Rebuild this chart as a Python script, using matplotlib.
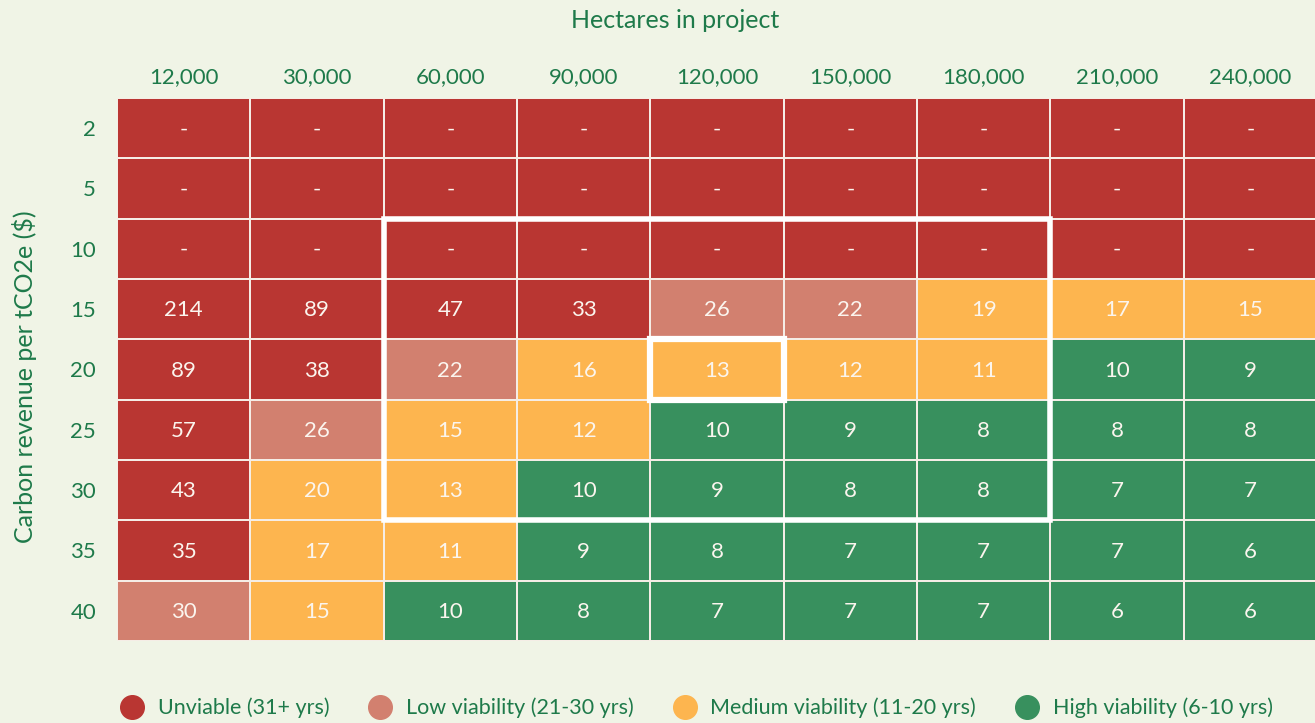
import numpy as np
import matplotlib
matplotlib.use("Agg")
import matplotlib.pyplot as plt
from matplotlib.colors import ListedColormap, BoundaryNorm
from matplotlib.patches import Rectangle
from matplotlib.lines import Line2D

plt.rcParams['font.family'] = ['Lato', 'DejaVu Sans']

hectares = ["12,000", "30,000", "60,000", "90,000", "120,000", "150,000", "180,000", "210,000", "240,000"]
revenue = ["2", "5", "10", "15", "20", "25", "30", "35", "40"]
nan = np.nan
years = np.array([
    [nan, nan, nan, nan, nan, nan, nan, nan, nan],
    [nan, nan, nan, nan, nan, nan, nan, nan, nan],
    [nan, nan, nan, nan, nan, nan, nan, nan, nan],
    [214, 89, 47, 33, 26, 22, 19, 17, 15],
    [89, 38, 22, 16, 13, 12, 11, 10, 9],
    [57, 26, 15, 12, 10, 9, 8, 8, 8],
    [43, 20, 13, 10, 9, 8, 8, 7, 7],
    [35, 17, 11, 9, 8, 7, 7, 7, 6],
    [30, 15, 10, 8, 7, 7, 7, 6, 6],
])
legend_labels = ["Unviable (31+ yrs)", "Low viability (21-30 yrs)",
                 "Medium viability (11-20 yrs)", "High viability (6-10 yrs)"]
colors = ["#B93632", "#D2806F", "#FDB54F", "#38905E"]
text_green = "#1E7A4A"
bg = "#F0F4E6"

# category: 0 unviable, 1 low, 2 medium, 3 high
cat = np.where(np.isnan(years), 0,
               np.where(years >= 31, 0, np.where(years >= 21, 1, np.where(years >= 11, 2, 3))))

fig = plt.figure(figsize=(13.15, 7.23), dpi=100, facecolor=bg)
ax = fig.add_axes([117/1315, 82/723, 1200/1315, 543/723])
ax.set_facecolor(bg)
cmap = ListedColormap(colors)
norm = BoundaryNorm([-0.5, 0.5, 1.5, 2.5, 3.5], 4)
ax.pcolormesh(np.arange(10) - 0.5, np.arange(10) - 0.5, cat, cmap=cmap, norm=norm,
              edgecolors="#F5EDE6", linewidth=1.2)
ax.set_xlim(-0.5, 8.5)
ax.set_ylim(8.5, -0.5)

for i in range(9):
    for j in range(9):
        v = years[i, j]
        s = "-" if np.isnan(v) else str(int(v))
        ax.text(j, i + 0.02, s, ha="center", va="center", color="#FBF5EE", fontsize=16)

ax.add_patch(Rectangle((1.5, 1.5), 5, 5, fill=False, edgecolor="white", linewidth=4, clip_on=False, zorder=5))
ax.add_patch(Rectangle((3.5, 3.5), 1, 1, fill=False, edgecolor="white", linewidth=4.5, clip_on=False, zorder=5))

ax.xaxis.tick_top()
ax.set_xticks(range(9))
ax.set_xticklabels(hectares, color=text_green, fontsize=16)
ax.set_yticks(range(9))
ax.set_yticklabels(revenue, color=text_green, fontsize=16)
ax.tick_params(length=0, pad=8)
ax.tick_params(axis="y", pad=15)
for sp in ax.spines.values():
    sp.set_visible(False)

fig.text(675/1315, 1 - 21/723, "Hectares in project", ha="center", va="center", color=text_green, fontsize=18)
fig.text(25/1315, 1 - 377/723, "Carbon revenue per tCO2e ($)", ha="center", va="center", rotation=90,
         color=text_green, fontsize=18)

handles = [Line2D([0], [0], marker="o", linestyle="", markersize=17, markerfacecolor=c, markeredgecolor=c)
           for c in colors]
leg = fig.legend(handles, legend_labels, loc="center", bbox_to_anchor=(696/1315, 1 - 708/723), ncol=4,
                 frameon=False, fontsize=15.5, handletextpad=0.6, columnspacing=1.75, handlelength=1.2)
for t in leg.get_texts():
    t.set_color(text_green)

fig.savefig("out.png", dpi=100, facecolor=bg)
